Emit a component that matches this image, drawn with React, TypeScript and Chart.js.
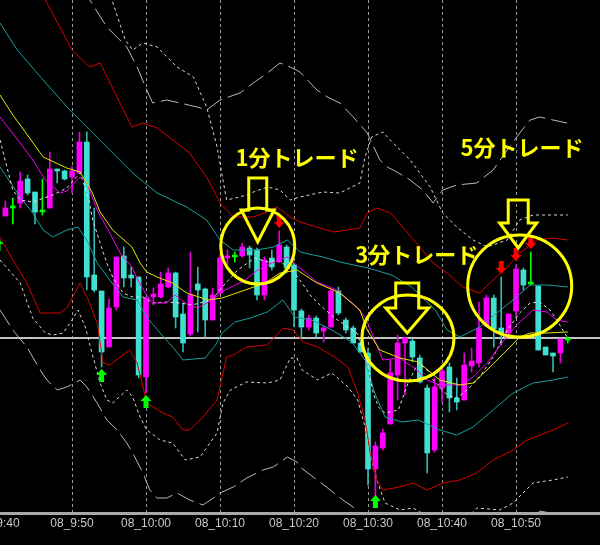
import React, { useEffect, useRef } from "react";
import { Chart, registerables } from "chart.js";

Chart.register(...registerables);

// ---- Candles (x = minutes after 9:40, prices in points) ----
const candleMinutes = [
  1, 2, 3, 4, 5, 6, 7, 8, 9, 10, 11, 12, 13, 14, 15, 16, 17, 18, 19, 20,
  21, 22, 23, 24, 25, 26, 27, 28, 29, 30, 31, 32, 33, 34, 35, 36, 37, 38, 39, 40,
  41, 42, 43, 44, 45, 46, 47, 48, 49, 50, 51, 52, 53, 54, 55, 56, 57, 58, 59, 60,
  61, 62, 63, 64, 65, 66, 67, 68, 69, 70, 71, 72, 73, 74, 75, 76, 77,
];
const opens = [
  384, 392, 397, 421, 408, 388, 392, 431, 429, 423, 427, 458, 325, 309, 253, 293, 344, 325, 323, 223,
  303, 303, 313, 327, 286, 266, 316, 311, 280, 307, 342, 343, 344, 352, 350, 305, 342, 338, 353, 335,
  289, 273, 282, 269, 273, 309, 280, 272, 257, 247, 131, 152, 176, 225, 257, 259, 242, 212, 150, 212,
  233, 202, 200, 234, 237, 274, 302, 272, 267, 289, 330, 316, 314, 253, 247, 247, 260,
];
const highs = [
  399, 402, 428, 425, 408, 421, 448, 431, 430, 434, 468, 468, 392, 309, 301, 343, 353, 333, 323, 303,
  312, 328, 332, 328, 297, 348, 333, 312, 312, 345, 350, 348, 357, 354, 352, 343, 350, 369, 355, 337,
  291, 285, 284, 274, 311, 313, 282, 274, 259, 252, 158, 171, 240, 265, 263, 261, 245, 215, 222, 233,
  237, 222, 247, 252, 298, 305, 305, 323, 286, 335, 332, 348, 314, 253, 247, 261, 263,
];
const lows = [
  384, 376, 392, 405, 376, 385, 392, 417, 420, 407, 427, 310, 308, 233, 253, 290, 313, 313, 222, 207,
  295, 302, 312, 272, 248, 264, 268, 263, 280, 307, 335, 338, 343, 332, 300, 300, 330, 338, 327, 273,
  262, 270, 263, 258, 273, 285, 267, 257, 248, 115, 103, 150, 176, 200, 205, 238, 217, 127, 148, 198,
  188, 190, 200, 228, 233, 274, 253, 255, 263, 282, 310, 315, 250, 245, 228, 237, 257,
];
const closes = [
  392, 392, 419, 407, 388, 388, 431, 429, 421, 429, 458, 323, 310, 248, 292, 343, 322, 322, 225, 302,
  306, 316, 327, 283, 257, 305, 310, 280, 305, 342, 344, 343, 353, 345, 305, 340, 333, 355, 332, 290,
  273, 282, 267, 272, 309, 287, 270, 257, 248, 131, 154, 167, 227, 257, 262, 243, 218, 147, 213, 229,
  202, 198, 235, 239, 272, 302, 271, 267, 286, 331, 315, 316, 250, 245, 244, 261, 260,
];

// ---- Axis ticks ----
const tickMinutes = [0, 10, 20, 30, 40, 50, 60, 70];
const tickLabels = ["08_9:40", "08_9:50", "08_10:00", "08_10:10", "08_10:20", "08_10:30", "08_10:40", "08_10:50"];

// ---- Indicator lines [minute, price] ----
const yellowMA = [
  [0.27, 505], [2.0, 485], [3.2, 473], [6.1, 443], [9.3, 432], [11.1, 428], [12.7, 408], [13.8, 388],
  [15.5, 370], [18.1, 353], [19.2, 337], [20.1, 328], [21.5, 323], [23.6, 317], [25.5, 307], [28.4, 300],
  [30.3, 302], [33.4, 310], [36.1, 317], [38.1, 327], [40.4, 330], [43.1, 317], [46.2, 307], [48.9, 290],
  [49.9, 270], [51.6, 250], [54.3, 242], [56.8, 238], [59.7, 220], [62.4, 215], [64.2, 217], [66.5, 233],
  [68.8, 250], [70.5, 263], [71.9, 267], [74.2, 267], [77.0, 268],
];
const magentaMA = [
  [0.27, 483], [3.0, 457], [4.7, 440], [6.4, 420], [8.4, 407], [9.3, 409], [11.1, 423], [12.0, 417],
  [13.4, 390], [15.1, 367], [16.5, 347], [18.1, 333], [18.9, 320], [19.9, 307], [20.9, 297], [22.8, 297],
  [23.9, 305], [25.7, 295], [27.0, 292], [28.9, 300], [30.7, 310], [33.4, 320], [35.1, 330], [37.0, 337],
  [39.1, 343], [40.8, 332], [43.1, 318], [45.8, 310], [48.2, 295], [49.6, 283], [50.9, 260], [52.0, 240],
  [54.3, 242], [56.6, 230], [57.97, 220], [59.7, 215], [62.4, 215], [64.2, 223], [66.1, 237], [68.2, 258],
  [70.1, 275], [72.3, 290], [74.2, 288], [75.5, 280], [77.0, 278],
];
const innerDotted = [
  [0.27, 460], [2.0, 410], [3.0, 400], [4.7, 398], [7.4, 405], [9.3, 412], [11.1, 427], [12.2, 403],
  [12.8, 380], [13.8, 357], [14.7, 337], [15.5, 323], [16.9, 307], [18.2, 303], [19.6, 303], [20.9, 297],
  [22.8, 298], [24.6, 297], [26.2, 295], [28.9, 300], [30.3, 313], [32.4, 330], [34.7, 342], [36.5, 338],
  [37.8, 340], [39.2, 333], [40.5, 323], [42.4, 303], [43.8, 293], [45.5, 282], [47.3, 273], [48.5, 267],
  [49.9, 237], [50.7, 207], [51.4, 193], [52.3, 187], [54.1, 190], [55.4, 217], [56.8, 237], [57.97, 230],
  [58.8, 220], [60.7, 205], [62.0, 202], [63.4, 210], [65.1, 223], [66.9, 243], [68.8, 270], [70.5, 287],
  [71.9, 297], [73.2, 298], [74.6, 290], [75.5, 280], [76.9, 263],
];
const tealUpper = [
  [0.27, 577], [2.6, 550], [6.1, 520], [9.7, 490], [12.0, 473], [15.1, 450], [18.2, 427], [21.5, 407],
  [25.5, 393], [28.2, 380], [30.0, 360], [31.8, 350], [35.0, 350], [37.2, 353], [39.1, 360], [40.8, 348],
  [43.9, 343], [46.2, 338], [50.0, 332], [53.2, 325], [55.9, 313], [57.7, 300], [59.1, 290], [60.7, 270],
  [62.4, 263], [65.1, 273], [67.4, 287], [69.6, 300], [71.9, 315], [74.2, 315], [77.0, 313],
];
const tealLower = [
  [0.27, 433], [3.0, 403], [4.7, 387], [6.1, 370], [7.4, 363], [9.3, 370], [10.8, 373], [12.0, 360],
  [13.4, 337], [15.1, 320], [16.9, 303], [18.8, 300], [20.1, 283], [21.9, 267], [23.6, 253], [25.0, 240],
  [28.0, 242], [29.4, 255], [30.3, 267], [32.0, 278], [34.1, 282], [36.4, 288], [38.5, 300], [40.1, 283],
  [42.4, 280], [45.1, 270], [47.8, 258], [49.6, 240], [50.9, 207], [52.3, 183], [54.6, 178], [56.8, 180],
  [59.7, 170], [62.0, 165], [64.2, 173], [66.9, 190], [69.6, 207], [72.3, 217], [75.0, 220], [77.0, 223],
];
const redUpper = [
  [0.27, 683], [6.4, 600], [10.0, 550], [12.4, 533], [13.8, 537], [18.1, 473], [19.6, 477], [21.5, 472],
  [25.9, 447], [28.2, 423], [30.0, 397], [31.8, 383], [34.5, 383], [36.4, 388], [37.7, 393], [39.5, 383],
  [40.8, 378], [45.3, 368], [48.9, 372], [49.9, 387], [51.2, 392], [53.0, 387], [54.7, 373], [57.0, 353],
  [58.8, 337], [60.7, 327], [62.8, 313], [65.1, 307], [66.9, 320], [68.8, 333], [70.5, 347], [72.8, 360],
  [75.0, 362], [77.0, 360],
];
const redLower = [
  [0.27, 363], [2.0, 340], [3.9, 317], [5.7, 287], [8.4, 287], [9.3, 292], [11.1, 317], [12.2, 300],
  [13.4, 277], [14.2, 237], [15.1, 235], [17.8, 250], [18.8, 237], [19.6, 213], [20.1, 197], [22.3, 187],
  [23.6, 183], [25.0, 170], [25.9, 170], [27.7, 183], [29.6, 200], [30.9, 243], [31.8, 245], [33.6, 253],
  [36.4, 255], [38.5, 272], [39.9, 270], [41.2, 258], [43.2, 253], [45.5, 243], [47.3, 233], [48.6, 207],
  [49.6, 180], [50.3, 147], [51.2, 120], [52.0, 110], [54.3, 113], [56.1, 117], [57.97, 110], [60.1, 117],
  [62.4, 120], [64.7, 127], [66.9, 140], [69.6, 150], [71.5, 160], [75.0, 170], [77.0, 177],
];
const upperDotted = [
  [12.4, 660], [15.4, 600], [17.2, 560], [18.2, 550], [19.6, 557], [21.5, 553], [24.2, 533], [26.4, 523],
  [28.2, 493], [29.6, 453], [30.4, 420], [30.9, 400], [32.7, 403], [36.4, 413], [38.1, 410], [39.5, 400],
  [40.8, 403], [43.9, 408], [46.2, 407], [48.9, 417], [49.6, 443], [50.5, 463], [52.0, 468], [53.0, 460],
  [55.7, 440], [58.4, 413], [60.1, 387], [62.0, 373], [64.2, 360], [66.1, 353], [68.8, 360], [70.5, 380],
  [72.3, 385], [77.0, 385],
];
const lowerDotted = [
  [0.27, 340], [3.0, 317], [4.7, 282], [6.4, 267], [7.4, 265], [8.8, 267], [10.0, 280], [10.8, 290],
  [11.8, 273], [12.7, 247], [13.8, 217], [14.7, 200], [15.5, 197], [17.4, 210], [18.2, 203], [19.2, 183],
  [20.1, 170], [21.9, 160], [23.6, 157], [25.3, 140], [27.3, 143], [29.6, 167], [30.4, 197], [31.4, 210],
  [33.6, 218], [36.4, 217], [38.1, 220], [39.5, 242], [40.4, 242], [41.1, 230], [43.2, 220], [45.1, 227],
  [47.3, 213], [48.6, 200], [49.6, 173], [50.5, 140], [51.2, 120], [52.3, 97], [54.3, 90], [56.1, 92],
  [57.7, 85], [59.7, 75], [63.1, 80], [64.7, 92], [67.8, 90], [69.6, 97], [72.3, 117], [75.0, 120],
  [77.0, 123],
];
const outerUpper = [
  [9.7, 632], [12.4, 600], [14.7, 573], [17.4, 553], [18.8, 533], [20.1, 510], [20.9, 497], [22.8, 500],
  [24.6, 497], [26.9, 493], [28.2, 490], [30.0, 500], [32.7, 507], [34.5, 517], [36.4, 527], [38.1, 537],
  [39.5, 533], [40.8, 528], [43.1, 510], [44.5, 503], [46.2, 497], [48.0, 483], [49.9, 467], [51.6, 440],
  [52.6, 433], [53.9, 428], [55.7, 420], [57.4, 410], [58.8, 397], [60.1, 410], [62.0, 415], [64.7, 417],
  [66.9, 430], [68.8, 450], [70.5, 467], [71.9, 480], [73.2, 483], [75.0, 480], [76.9, 477],
];
const outerLower = [
  [0.27, 290], [2.0, 270], [3.9, 253], [5.7, 230], [6.6, 220], [8.0, 210], [9.3, 213], [11.1, 220],
  [12.0, 213], [13.4, 197], [14.7, 180], [16.1, 170], [17.4, 157], [18.2, 147], [19.6, 127], [20.5, 110],
  [21.5, 102], [22.8, 102], [24.2, 107], [25.9, 100], [27.7, 95], [29.1, 102], [30.0, 107], [31.8, 113],
  [33.6, 122], [35.8, 130], [37.2, 133], [39.1, 143], [40.4, 138], [40.8, 133], [42.6, 123], [44.9, 110],
  [46.6, 100], [48.0, 93], [49.6, 75], [51.6, 55], [57.0, 40], [67.8, 50], [71.9, 75], [73.2, 89],
  [74.6, 87], [77.0, 80],
];
const currentPrice = 262;

// ---- Signals [minute, price] ----
const buySignals = [[0, 356], [14, 225], [20, 199], [51, 99]];
const sellSignals = [[38, 378], [68, 332], [70, 345], [72, 357]];

// ---- Annotations ----
const notes = [
  { text: "1分トレード", textAt: [40.4, 442], ring: [35.1, 354], arrow: [35.1, 422, 390, 358] },
  { text: "3分トレード", textAt: [56.6, 345], ring: [55.4, 262], arrow: [55.3, 317, 292, 267] },
  { text: "5分トレード", textAt: [70.8, 452], ring: [70.5, 314], arrow: [70.3, 400, 377, 352] },
];
const ringRadii = [[37, 38], [46, 43], [52, 51]];
const arrowWidths = [[9, 16.5], [11.5, 21.5], [10, 18.5]];

const UP = "#ff00ff";
const DOWN = "#40e0d0";
const DOJI = "#00ff00";

function candleColor(i: number) {
  if (opens[i] === closes[i]) return DOJI;
  return closes[i] > opens[i] ? UP : DOWN;
}
function wickColor(i: number) {
  if (opens[i] === closes[i]) return DOJI;
  return closes[i] > opens[i] ? "#e000e0" : "#30b8b0";
}

function lineDs(pts: number[][], color: string, dash: number[], order: number) {
  return {
    type: "line" as const,
    data: pts.map(([x, y]) => ({ x, y })),
    borderColor: color,
    borderWidth: 1,
    borderDash: dash,
    pointRadius: 0,
    fill: false,
    tension: 0,
    order,
  };
}

function sigArrow(ctx: CanvasRenderingContext2D, x: number, y: number, up: boolean, color: string) {
  const d = up ? -1 : 1;
  ctx.fillStyle = color;
  ctx.beginPath();
  ctx.moveTo(x - 2.5, y - 7 * d);
  ctx.lineTo(x + 2.5, y - 7 * d);
  ctx.lineTo(x + 2.5, y);
  ctx.lineTo(x + 5.5, y);
  ctx.lineTo(x, y + 6 * d);
  ctx.lineTo(x - 5.5, y);
  ctx.lineTo(x - 2.5, y);
  ctx.closePath();
  ctx.fill();
}

const overlay = {
  id: "overlay",
  beforeDraw(chart: any) {
    const { ctx, width, height } = chart;
    ctx.save();
    ctx.fillStyle = "#000000";
    ctx.fillRect(0, 0, width, height);
    ctx.restore();
  },
  afterDatasetsDraw(chart: any) {
    const ctx: CanvasRenderingContext2D = chart.ctx;
    const xs = chart.scales.x;
    const ys = chart.scales.y;
    const px = (m: number) => xs.getPixelForValue(m);
    const py = (v: number) => ys.getPixelForValue(v);
    ctx.save();
    ctx.fillStyle = "#a8a8a8";
    ctx.fillRect(0, chart.chartArea.bottom, chart.width, 3);

    for (const [m, v] of buySignals) sigArrow(ctx, px(m), py(v), true, "#00ff00");
    for (const [m, v] of sellSignals) sigArrow(ctx, px(m), py(v), false, "#ff0000");

    ctx.strokeStyle = "#ffff00";
    ctx.fillStyle = "#ffff00";
    ctx.lineWidth = 3;
    ctx.lineJoin = "miter";
    notes.forEach((n, i) => {
      const [rx, ry] = ringRadii[i];
      ctx.beginPath();
      ctx.ellipse(px(n.ring[0]), py(n.ring[1]), rx, ry, 0, 0, Math.PI * 2);
      ctx.stroke();

      const [am, top, base, tip] = n.arrow;
      const [sw, hw] = arrowWidths[i];
      const cx = px(am);
      ctx.beginPath();
      ctx.moveTo(cx - sw, py(top));
      ctx.lineTo(cx + sw, py(top));
      ctx.lineTo(cx + sw, py(base));
      ctx.lineTo(cx + hw, py(base));
      ctx.lineTo(cx, py(tip));
      ctx.lineTo(cx - hw, py(base));
      ctx.lineTo(cx - sw, py(base));
      ctx.closePath();
      ctx.stroke();

      ctx.font = 'bold 22px "Noto Sans CJK JP", sans-serif';
      ctx.textAlign = "center";
      ctx.textBaseline = "middle";
      ctx.fillText(n.text, px(n.textAt[0]), py(n.textAt[1]));
    });
    ctx.restore();
  },
};

export default function App() {
  const ref = useRef<HTMLCanvasElement | null>(null);

  useEffect(() => {
    if (!ref.current) return;
    const wicks = {
      type: "bar" as const,
      data: candleMinutes.map((m, i) => ({ x: m, y: [lows[i], highs[i]] })),
      backgroundColor: candleMinutes.map((_, i) => wickColor(i)),
      barThickness: 1,
      grouped: false,
      borderWidth: 0,
      order: 20,
    };
    const bodies = {
      type: "bar" as const,
      data: candleMinutes.map((m, i) => ({ x: m, y: [opens[i], closes[i]] })),
      backgroundColor: candleMinutes.map((_, i) => candleColor(i)),
      barThickness: 5,
      minBarLength: 2,
      grouped: false,
      borderWidth: 0,
      order: 15,
    };
    const priceLine = lineDs([[0, currentPrice], [82, currentPrice]], "#c4c4c4", [], 30);
    (priceLine as any).borderWidth = 2;

    const chart = new Chart(ref.current, {
      type: "line",
      data: {
        datasets: [
          lineDs(yellowMA, "#e6e600", [], 1),
          lineDs(magentaMA, "#f000f0", [], 1),
          lineDs(innerDotted, "#e0e0e0", [3, 3], 2),
          lineDs(tealUpper, "#1a9e9e", [], 3),
          lineDs(tealLower, "#1a9e9e", [], 3),
          lineDs(redUpper, "#d80000", [], 3),
          lineDs(redLower, "#d80000", [], 3),
          lineDs(upperDotted, "#d8d8d8", [3, 3], 4),
          lineDs(lowerDotted, "#d8d8d8", [3, 3], 4),
          lineDs(outerUpper, "#b8b8b8", [18, 6], 4),
          lineDs(outerLower, "#b8b8b8", [18, 6], 4),
          bodies as any,
          wicks as any,
          priceLine,
        ],
      },
      options: {
        responsive: false,
        animation: false,
        devicePixelRatio: 1,
        events: [],
        layout: { padding: 0 },
        plugins: { legend: { display: false }, tooltip: { enabled: false } },
        scales: {
          x: {
            type: "linear",
            min: 0.27,
            max: 81.35,
            offset: false,
            grid: { display: true, color: "#9a9a9a", lineWidth: 1, drawTicks: false, offset: false },
            border: { display: false, dash: [3, 3] },
            afterBuildTicks: (s: any) => {
              s.ticks = tickMinutes.map((v) => ({ value: v }));
            },
            afterFit: (s: any) => {
              s.height = 33;
              s.paddingLeft = 0;
              s.paddingRight = 0;
            },
            ticks: {
              autoSkip: false,
              maxRotation: 0,
              minRotation: 0,
              padding: 4,
              color: "#c8c8c8",
              font: { family: '"Liberation Sans", Arial, sans-serif', size: 12 },
              callback: (v: any) => {
                const idx = tickMinutes.indexOf(Number(v));
                return idx >= 0 ? tickLabels[idx] : "";
              },
            },
          },
          y: { type: "linear", display: false, min: 88, max: 600 },
        },
      } as any,
      plugins: [overlay],
    });
    return () => chart.destroy();
  }, []);

  return (
    <div style={{ position: "absolute", left: 0, top: 0, width: 600, height: 545, background: "#000" }}>
      <canvas ref={ref} width={600} height={545} style={{ display: "block" }} />
    </div>
  );
}
